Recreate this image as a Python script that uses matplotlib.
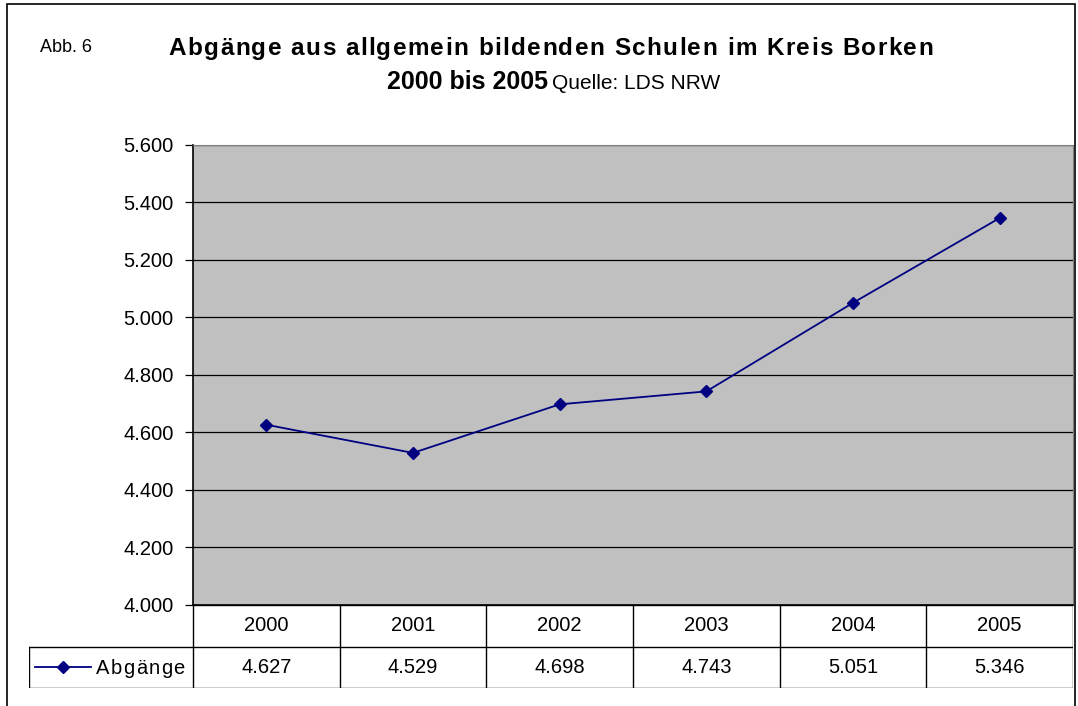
import matplotlib

matplotlib.use("Agg")
import matplotlib.pyplot as plt  # noqa: E402
from matplotlib.lines import Line2D  # noqa: E402
from matplotlib.patches import Rectangle  # noqa: E402

years = ["2000", "2001", "2002", "2003", "2004", "2005"]
abgaenge = [4627, 4529, 4698, 4743, 5051, 5346]
value_labels = ["4.627", "4.529", "4.698", "4.743", "5.051", "5.346"]
yticks = [4000, 4200, 4400, 4600, 4800, 5000, 5200, 5400, 5600]
ytick_labels = ["4.000", "4.200", "4.400", "4.600", "4.800", "5.000", "5.200", "5.400", "5.600"]
series_name = "Abgänge"
title = "Abgänge aus allgemein bildenden Schulen im Kreis Borken"

plt.rcParams["font.family"] = ["Liberation Sans", "DejaVu Sans"]

W, H = 1078, 706
fig = plt.figure(figsize=(W / 100, H / 100), dpi=100)
renderer = fig.canvas.get_renderer()


def fx(px):
    return px / W


def fy(py):
    return 1 - py / H


def text_width(s, **kw):
    t = fig.text(0, 0, s, **kw)
    w = t.get_window_extent(renderer).width
    t.remove()
    return w


def spaced_text(x_px, y_px, s, spacing, ha="left", **kw):
    """Excel-style letter-spaced text, positioned in pixels."""
    total = text_width(s, **kw) + spacing * (len(s) - 1)
    x0 = x_px - (total / 2 if ha == "center" else 0)
    for i, ch in enumerate(s):
        if ch == " ":
            continue
        off = text_width(s[:i], **kw) if i else 0
        fig.text(fx(x0 + off + i * spacing), fy(y_px), ch, ha="left", va="baseline", **kw)


# outer chart frame (only top and left edges show)
fig.patches.append(Rectangle((fx(7), fy(760)), fx(1075 - 7), fy(4) - fy(760),
                             transform=fig.transFigure, fill=False,
                             edgecolor="black", linewidth=1.2))

# plot area
left, right, top, bottom = 193, 1073, 145, 605
ax = fig.add_axes([fx(left), fy(bottom), fx(right - left), fy(top) - fy(bottom)])
ax.set_facecolor("#c0c0c0")
x = list(range(len(years)))
ax.plot(x, abgaenge, color="#000080", linewidth=1.3, marker="D",
        markersize=6.5, markerfacecolor="#000080", markeredgecolor="#000080")
ax.set_xlim(-0.5, len(years) - 0.5)
ax.set_ylim(yticks[0], yticks[-1])
ax.set_yticks(yticks)
ax.set_yticklabels(ytick_labels, fontsize=14.5)
ax.yaxis.grid(True, color="black", linewidth=0.9)
ax.set_axisbelow(True)
ax.set_xticks([])
ax.tick_params(axis="y", length=6, width=0.9, pad=8)
for side in ["top", "right"]:
    ax.spines[side].set_color("#808080")
ax.spines["left"].set_linewidth(1.2)
ax.spines["bottom"].set_linewidth(1.2)

# data table below the plot
legend_left = 29
row1, row2, row3 = 605, 647, 688
col_w = (right - left) / len(years)
tx0 = -0.5 - (left - legend_left) / col_w
tab = fig.add_axes([fx(legend_left), fy(row3), fx(right - legend_left), fy(row1) - fy(row3)])
tab.set_xlim(tx0, len(years) - 0.5)
tab.set_ylim(0, 2)
tab.axis("off")
lw = 1.0
tab.plot([-0.5, len(years) - 0.5], [2, 2], color="black", lw=lw)
tab.plot([tx0, len(years) - 0.5], [1, 1], color="black", lw=lw)
tab.plot([tx0, len(years) - 0.5], [0, 0], color="black", lw=lw)
for i in range(len(years) + 1):
    tab.plot([i - 0.5, i - 0.5], [0, 2], color="black", lw=lw)
tab.plot([tx0, tx0], [0, 1], color="black", lw=lw)
for i, (yr, val) in enumerate(zip(years, value_labels)):
    tab.text(i, 1.5, yr, ha="center", va="center", fontsize=14.5)
    tab.text(i, 0.5, val, ha="center", va="center", fontsize=14.5)
# legend key in table
key_x = [tx0 + 0.04, tx0 + 0.42]
tab.add_line(Line2D(key_x, [0.5, 0.5], color="#000080", lw=1.3))
tab.plot([sum(key_x) / 2], [0.5], marker="D", color="#000080", markersize=6.5)
spaced_text(96, 674, series_name, 1.3, fontsize=14.5)

# titles
fig.text(fx(40), fy(52), "Abb. 6", fontsize=13, ha="left", va="baseline")
spaced_text(551, 55, title, 1.4, ha="center", fontsize=17.5, fontweight="bold")
fig.text(fx(548), fy(89), "2000 bis 2005", fontsize=18, fontweight="bold",
         ha="right", va="baseline")
fig.text(fx(552), fy(89), "Quelle: LDS NRW", fontsize=15, ha="left", va="baseline")

fig.savefig("out.png", dpi=100)
